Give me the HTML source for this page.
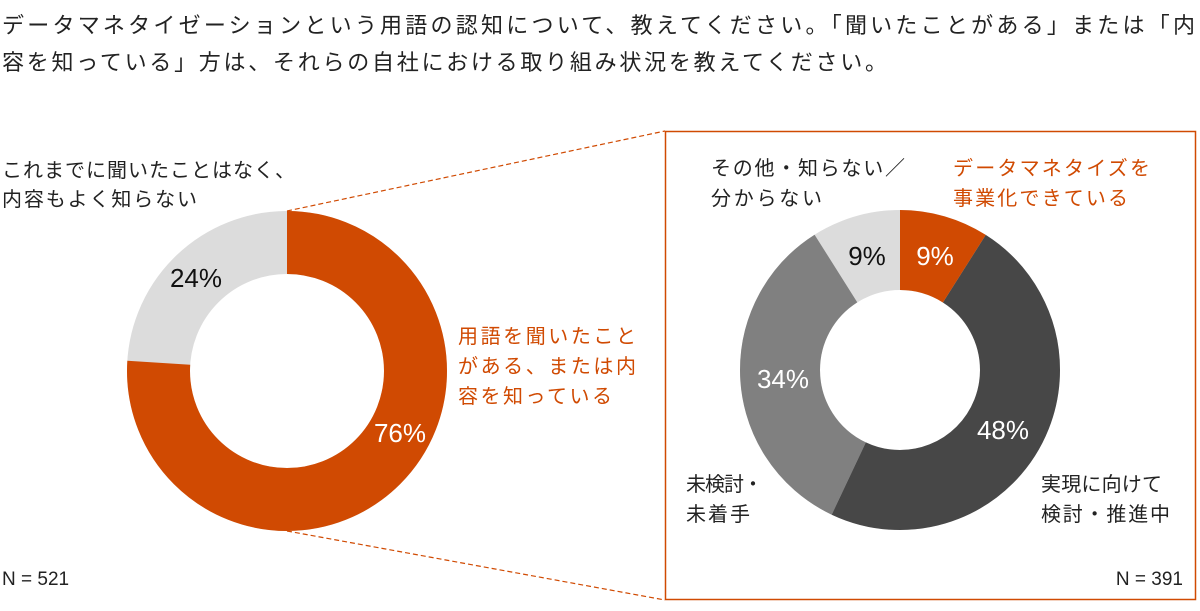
<!DOCTYPE html>
<html><head><meta charset="utf-8"><style>
body{margin:0;width:1200px;height:606px;background:#fff;overflow:hidden}
svg text{font-family:"Liberation Sans","Noto Sans CJK JP",sans-serif}
</style></head><body>
<svg width="1200" height="606" viewBox="0 0 1200 606">
<text x="2" y="33" font-size="22" fill="#222" textLength="1193" lengthAdjust="spacing">データマネタイゼーションという用語の認知について、教えてください。「聞いたことがある」または「内</text>
<text x="2" y="70" font-size="22" fill="#222" textLength="885" lengthAdjust="spacing">容を知っている」方は、それらの自社における取り組み状況を教えてください。</text>

<!-- left donut -->
<g transform="rotate(-90 287 371)">
<circle cx="287" cy="371" r="128.5" fill="none" stroke="#dcdcdc" stroke-width="63"/>
<circle cx="287" cy="371" r="128.5" fill="none" stroke="#d04a02" stroke-width="63" stroke-dasharray="613.6 1000"/>
</g>
<text x="196" y="287" font-size="26" fill="#111" text-anchor="middle">24%</text>
<text x="400" y="442" font-size="26" fill="#fff" text-anchor="middle">76%</text>
<text x="2" y="177" font-size="20" fill="#222" textLength="293" lengthAdjust="spacing">これまでに聞いたことはなく、</text>
<text x="2" y="206" font-size="20" fill="#222" textLength="195" lengthAdjust="spacing">内容もよく知らない</text>
<text x="458" y="343" font-size="20" fill="#d04a02" textLength="178" lengthAdjust="spacing">用語を聞いたこと</text>
<text x="458" y="373" font-size="20" fill="#d04a02" textLength="178" lengthAdjust="spacing">がある、または内</text>
<text x="458" y="403" font-size="20" fill="#d04a02" textLength="154" lengthAdjust="spacing">容を知っている</text>
<text x="2" y="585" font-size="19" fill="#222">N = 521</text>

<!-- connectors & box -->
<line x1="287" y1="211" x2="665" y2="131" stroke="#d04a02" stroke-dasharray="5 3" stroke-width="1.2"/>
<line x1="287" y1="531" x2="665" y2="600" stroke="#d04a02" stroke-dasharray="5 3" stroke-width="1.2"/>
<rect x="665.5" y="131.5" width="530" height="468" fill="none" stroke="#d04a02" stroke-width="1.5"/>

<!-- right donut -->
<g transform="rotate(-90 900 370)">
<circle cx="900" cy="370" r="120" fill="none" stroke="#dcdcdc" stroke-width="80"/>
<circle cx="900" cy="370" r="120" fill="none" stroke="#808080" stroke-width="80" stroke-dasharray="0 429.76 256.35 1000"/>
<circle cx="900" cy="370" r="120" fill="none" stroke="#474747" stroke-width="80" stroke-dasharray="0 67.86 361.9 1000"/>
<circle cx="900" cy="370" r="120" fill="none" stroke="#d04a02" stroke-width="80" stroke-dasharray="67.86 1000"/>
</g>
<text x="935" y="265" font-size="26" fill="#fff" text-anchor="middle">9%</text>
<text x="867" y="265" font-size="26" fill="#111" text-anchor="middle">9%</text>
<text x="1003" y="439" font-size="26" fill="#fff" text-anchor="middle">48%</text>
<text x="783" y="388" font-size="26" fill="#fff" text-anchor="middle">34%</text>
<text x="711" y="175" font-size="20" fill="#222" textLength="194" lengthAdjust="spacing">その他・知らない／</text>
<text x="711" y="205" font-size="20" fill="#222" textLength="111" lengthAdjust="spacing">分からない</text>
<text x="953" y="175" font-size="20" fill="#d04a02" textLength="197" lengthAdjust="spacing">データマネタイズを</text>
<text x="953" y="205" font-size="20" fill="#d04a02" textLength="175" lengthAdjust="spacing">事業化できている</text>
<text x="686" y="491" font-size="20" fill="#222" textLength="77" lengthAdjust="spacing">未検討・</text>
<text x="686" y="521" font-size="20" fill="#222" textLength="64" lengthAdjust="spacing">未着手</text>
<text x="1041" y="491" font-size="20" fill="#222" textLength="121" lengthAdjust="spacing">実現に向けて</text>
<text x="1041" y="521" font-size="20" fill="#222" textLength="129" lengthAdjust="spacing">検討・推進中</text>
<text x="1183" y="585" font-size="19" fill="#222" text-anchor="end">N = 391</text>
</svg>
</body></html>
